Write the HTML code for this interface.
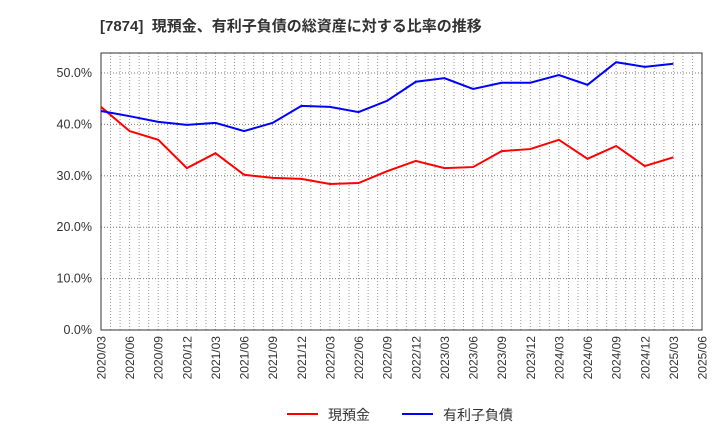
<!DOCTYPE html>
<html><head><meta charset="utf-8"><style>
body{margin:0;background:#fff;width:720px;height:440px;overflow:hidden}
svg{font-family:"Liberation Sans","Noto Sans CJK JP",sans-serif}
</style></head><body>
<svg id="c" width="720" height="440">
<text x="100" y="31" font-size="15" font-weight="bold" fill="#333" xml:space="preserve">[7874]  現預金、有利子負債の総資産に対する比率の推移</text>
<g id="grid"></g><g id="axes"></g><g id="series"></g>
<g>
<line x1="287" y1="414" x2="318" y2="414" stroke="#f00" stroke-width="2"/>
<text x="328" y="420" font-size="14" fill="#333">現預金</text>
<line x1="402" y1="414" x2="433" y2="414" stroke="#00f" stroke-width="2"/>
<text x="443" y="420" font-size="14" fill="#333">有利子負債</text>
</g>
</svg>
<script>
const xLabels=["2020/03","2020/06","2020/09","2020/12","2021/03","2021/06","2021/09","2021/12","2022/03","2022/06","2022/09","2022/12","2023/03","2023/06","2023/09","2023/12","2024/03","2024/06","2024/09","2024/12","2025/03","2025/06"];
const yTicks=[0,10,20,30,40,50];
const cash=[43.4,38.7,37.0,31.5,34.4,30.2,29.6,29.4,28.4,28.6,30.9,32.9,31.5,31.7,34.8,35.2,37.0,33.3,35.8,31.9,33.6];
const debt=[42.6,41.6,40.5,39.9,40.3,38.7,40.3,43.6,43.4,42.4,44.6,48.3,49.0,46.9,48.1,48.1,49.6,47.7,52.1,51.2,51.8];
const L=101,R=702,T=53,B=330;
const xs=i=>L+(R-L)*i/(xLabels.length-1);
const ys=v=>B-(B-73)*v/50;
const ns="http://www.w3.org/2000/svg";
function mk(t,a,p){const e=document.createElementNS(ns,t);for(const k in a)e.setAttribute(k,a[k]);p.appendChild(e);return e;}
const g=document.getElementById('grid'),ax=document.getElementById('axes'),s=document.getElementById('series');
for(let m=1;m<(xLabels.length-1)*3;m++){const x=L+(R-L)*m/((xLabels.length-1)*3);
const l=mk('line',{x1:x,x2:x,y1:T,y2:B,stroke:'#999','stroke-dasharray':'1,2','stroke-width':1},g);
}
yTicks.forEach(v=>{const y=ys(v);
if(v>0){const l=mk('line',{x1:L,x2:R,y1:y,y2:y,stroke:'#777','stroke-dasharray':'1,2'},g);
}
const t=mk('text',{x:92,y:y+4,'font-size':12.5,fill:'#333','text-anchor':'end'},ax);t.textContent=v.toFixed(1)+'%';
});
const fr=mk('rect',{x:L,y:T,width:R-L,height:B-T,fill:'none',stroke:'#333'},ax);

xLabels.forEach((lb,i)=>{const x=xs(i);const t=mk('text',{x:0,y:0,'font-size':12,fill:'#333','text-anchor':'end',transform:`translate(${x+4.5},${B+6}) rotate(-90)`},ax);t.textContent=lb;
});
[[cash,'#f00','cash-line'],[debt,'#00f','debt-line']].forEach(([d,c,n])=>{
const p=mk('polyline',{points:d.map((v,i)=>xs(i)+','+ys(v)).join(' '),fill:'none',stroke:c,'stroke-width':2},s);
});
</script>
</body></html>
